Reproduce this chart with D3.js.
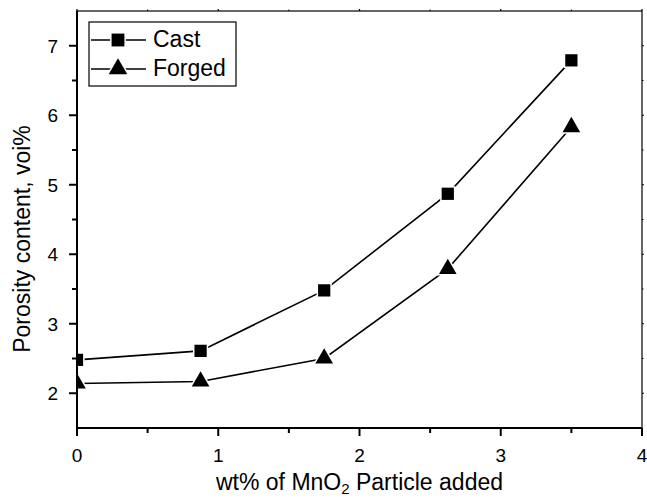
<!DOCTYPE html>
<html><head><meta charset="utf-8">
<script src="https://cdn.jsdelivr.net/npm/d3@7"></script>
<style>body{margin:0;background:#fff}svg{display:block}text{font-family:Arial,"Liberation Sans",sans-serif;fill:#000}</style>
</head><body><svg id="c" width="647" height="499"></svg>
<script>
const xValues = [0, 0.875, 1.75, 2.625, 3.5];
const castValues = [2.48, 2.61, 3.48, 4.87, 6.79];
const forgedValues = [2.14, 2.17, 2.50, 3.79, 5.83];
const seriesNames = ["Cast", "Forged"];
const xTicks = [0, 1, 2, 3, 4];
const yTicks = [2, 3, 4, 5, 6, 7];

const svg = d3.select("#c");
const L = 77, R = 642, T = 11, B = 428;
const x = d3.scaleLinear().domain([0, 4]).range([L, R]);
const y = d3.scaleLinear().domain([1.5, 7.5]).range([B, T]);

svg.append("defs").append("clipPath").attr("id","clip")
  .append("rect").attr("x",L).attr("y",T).attr("width",R-L).attr("height",B-T);

const plot = svg.append("g").attr("clip-path","url(#clip)");
const line = d3.line().x(d=>x(d[0])).y(d=>y(d[1]));
const series = [
  {name: seriesNames[0], vals: castValues, sym: d3.symbolSquare, size: 150},
  {name: seriesNames[1], vals: forgedValues, sym: d3.symbolTriangle, size: 135}
];
series.forEach(s => {
  const pts = xValues.map((v,i)=>[v, s.vals[i]]);
  plot.append("path").attr("d", line(pts)).attr("fill","none").attr("stroke","#000").attr("stroke-width",1.6);
  plot.selectAll(null).data(pts).enter().append("path")
    .attr("d", d3.symbol().type(s.sym).size(s.size))
    .attr("transform", d=>`translate(${x(d[0])},${y(d[1])})`)
    .attr("fill","#000").attr("stroke","#fff").attr("stroke-width",3).attr("paint-order","stroke");
});

// axes
const ax = svg.append("g").attr("stroke","#000").attr("fill","none");
ax.append("rect").attr("x",L).attr("y",T).attr("width",R-L).attr("height",B-T).attr("stroke-width",1.2);
ax.append("line").attr("x1",L).attr("x2",L).attr("y1",T).attr("y2",B+1).attr("stroke-width",2);
ax.append("line").attr("x1",L-1).attr("x2",R).attr("y1",B).attr("y2",B).attr("stroke-width",2);

const xMinor = d3.range(0.5, 4, 1);
const yMinor = d3.range(2.5, 7.5, 1);
xTicks.forEach(t=>{
  ax.append("line").attr("x1",x(t)).attr("x2",x(t)).attr("y1",B).attr("y2",B+8).attr("stroke-width",2);
  ax.append("line").attr("x1",x(t)).attr("x2",x(t)).attr("y1",T).attr("y2",T-2).attr("stroke-width",1.2);
});
xMinor.forEach(t=>{
  ax.append("line").attr("x1",x(t)).attr("x2",x(t)).attr("y1",B).attr("y2",B+5).attr("stroke-width",2);
  ax.append("line").attr("x1",x(t)).attr("x2",x(t)).attr("y1",T).attr("y2",T-1.5).attr("stroke-width",1);
});
yTicks.forEach(t=>{
  ax.append("line").attr("x1",L).attr("x2",L-8).attr("y1",y(t)).attr("y2",y(t)).attr("stroke-width",2);
  ax.append("line").attr("x1",R).attr("x2",R+2).attr("y1",y(t)).attr("y2",y(t)).attr("stroke-width",1.2);
});
yMinor.forEach(t=>{
  ax.append("line").attr("x1",L).attr("x2",L-5).attr("y1",y(t)).attr("y2",y(t)).attr("stroke-width",2);
  ax.append("line").attr("x1",R).attr("x2",R+1.5).attr("y1",y(t)).attr("y2",y(t)).attr("stroke-width",1);
});

svg.selectAll(".xl").data(xTicks).enter().append("text")
  .attr("x", d=>x(d)).attr("y", B+34).attr("text-anchor","middle").attr("font-size",19).text(d=>d);
svg.selectAll(".yl").data(yTicks).enter().append("text")
  .attr("x", L-19).attr("y", d=>y(d)+7).attr("text-anchor","end").attr("font-size",19).text(d=>d);

// axis titles
const xt = svg.append("text").attr("x", (L+R)/2).attr("y", 490).attr("text-anchor","middle").attr("font-size",23);
xt.append("tspan").text("wt% of MnO");
xt.append("tspan").attr("font-size",15).attr("dy",4).text("2");
xt.append("tspan").attr("dy",-4).text(" Particle added");
svg.append("text").attr("transform",`translate(30,239) rotate(-90)`)
  .attr("text-anchor","middle").attr("font-size",23).text("Porosity content, voi%");

// legend
const lg = svg.append("g");
lg.append("rect").attr("x",89).attr("y",22).attr("width",147).attr("height",64)
  .attr("fill","#fff").attr("stroke","#000").attr("stroke-width",1.2);
series.forEach((s,i)=>{
  const yy = 40 + i*29;
  lg.append("line").attr("x1",91).attr("x2",146).attr("y1",yy).attr("y2",yy).attr("stroke","#000").attr("stroke-width",1.6);
  lg.append("path").attr("d", d3.symbol().type(s.sym).size(s.size+15)).attr("transform",`translate(118,${yy})`)
    .attr("fill","#000").attr("stroke","#fff").attr("stroke-width",3).attr("paint-order","stroke");
  lg.append("text").attr("x",153).attr("y",yy+7).attr("font-size",23).text(s.name);
});
</script></body></html>
